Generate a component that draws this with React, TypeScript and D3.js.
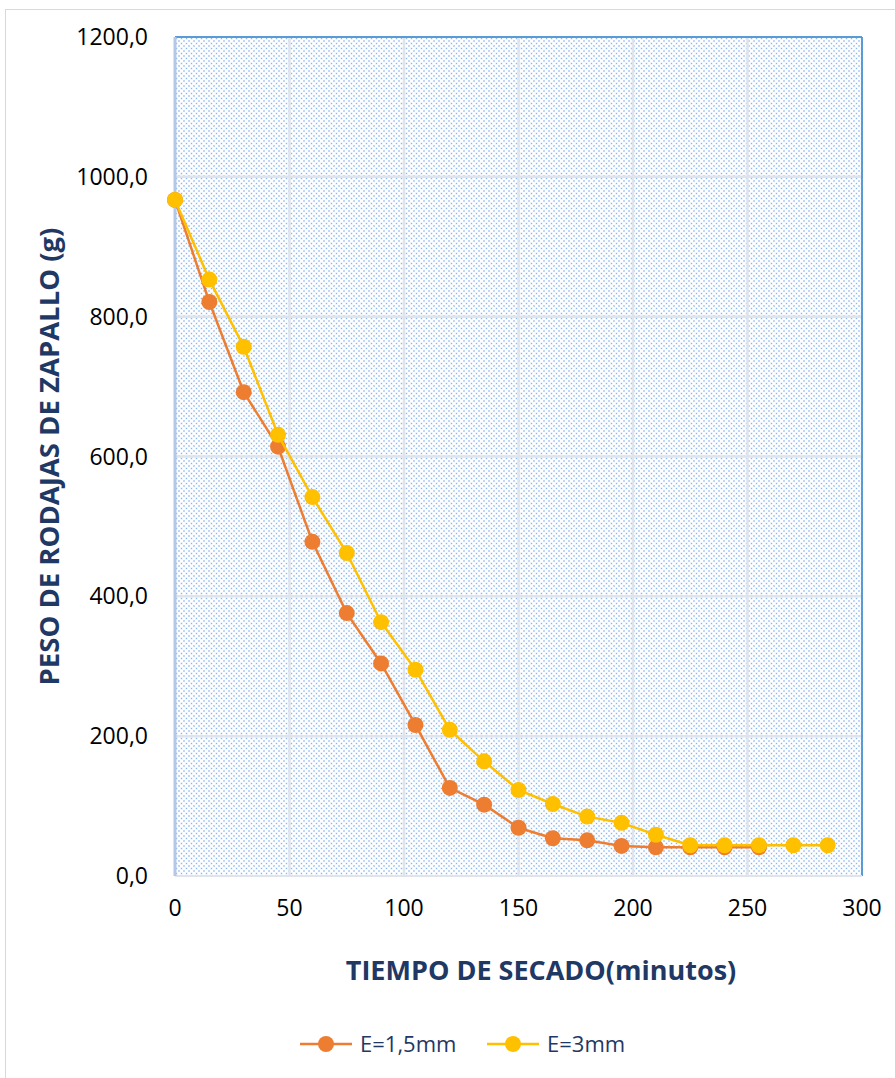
import React from "react";
import * as d3 from "d3";

const width = 895;
const height = 1078;
const margin = { top: 37, right: 33, bottom: 202, left: 175 };

// tiempo de secado (minutos)
const tiempos15 = [0, 15, 30, 45, 60, 75, 90, 105, 120, 135, 150, 165, 180, 195, 210, 225, 240, 255];
const pesos15 = [967, 821, 692, 614, 478, 376, 304, 216, 126, 102, 69, 54, 51, 43, 41, 41, 41, 41];

const tiempos3 = [0, 15, 30, 45, 60, 75, 90, 105, 120, 135, 150, 165, 180, 195, 210, 225, 240, 255, 270, 285];
const pesos3 = [967, 853, 757, 631, 542, 462, 363, 295, 209, 164, 123, 103, 85, 76, 59, 44, 44, 44, 44, 44];

const xTicks = [0, 50, 100, 150, 200, 250, 300];
const yTicks = [0, 200, 400, 600, 800, 1000, 1200];

const series = [
  { name: "E=1,5mm", color: "#ed7d31", xs: tiempos15, ys: pesos15 },
  { name: "E=3mm", color: "#ffc000", xs: tiempos3, ys: pesos3 },
];

const navy = "#1f3864";
const font = "'Open Sans', 'Liberation Sans', sans-serif";

const App = () => {
  const innerWidth = width - margin.left - margin.right;
  const innerHeight = height - margin.top - margin.bottom;

  const xScale = d3.scaleLinear().domain([0, 300]).range([0, innerWidth]);
  const yScale = d3.scaleLinear().domain([0, 1200]).range([innerHeight, 0]);

  const line = d3
    .line<[number, number]>()
    .x((d) => xScale(d[0]))
    .y((d) => yScale(d[1]));

  return (
    <svg
      width={width}
      height={height}
      style={{ position: "absolute", left: 0, top: 0 }}
      fontFamily={font}
    >
      <defs>
        <pattern id="dots" x={0} y={0} width={5} height={5} patternUnits="userSpaceOnUse">
          <rect width={5} height={5} fill="#ffffff" />
          <rect x={0.5} y={0.5} width={2} height={2} fill="#d2e3fa" />
          <rect x={1} y={1} width={1} height={1} fill="#8ab6ee" />
          <rect x={3} y={3} width={2} height={2} fill="#d2e3fa" />
          <rect x={3.5} y={3.5} width={1} height={1} fill="#8ab6ee" />
        </pattern>
      </defs>
      <rect x={0} y={0} width={width} height={height} fill="#fff" />
      <rect x={5.5} y={9.5} width={width} height={height} fill="none" stroke="#d9d9d9" />

      <g transform={`translate(${margin.left},${margin.top})`}>
        <rect width={innerWidth} height={innerHeight} fill="url(#dots)" />

        {/* grid */}
        {xTicks.slice(1, -1).map((t) => (
          <line key={"gx" + t} x1={xScale(t)} x2={xScale(t)} y1={0} y2={innerHeight} stroke="#dfe4ec" strokeWidth={2.5} />
        ))}
        {yTicks.slice(1, -1).map((t) => (
          <line key={"gy" + t} x1={0} x2={innerWidth} y1={yScale(t)} y2={yScale(t)} stroke="#dfe4ec" strokeWidth={2.5} />
        ))}

        {/* borders */}
        <line x1={0} x2={innerWidth} y1={0} y2={0} stroke="#5b9bd5" strokeWidth={2} />
        <line x1={innerWidth} x2={innerWidth} y1={0} y2={innerHeight} stroke="#5b9bd5" strokeWidth={2} />
        <line x1={0} x2={innerWidth} y1={innerHeight} y2={innerHeight} stroke="#dfe4ec" strokeWidth={2} />
        <line x1={0} x2={0} y1={0} y2={innerHeight} stroke="#b4c7e7" strokeWidth={3} />

        {/* y ticks */}
        {yTicks.map((t) => (
          <text
            key={"yt" + t}
            x={-27}
            y={yScale(t)}
            dy="0.35em"
            textAnchor="end"
            fontSize={23}
            fill="#000"
          >
            {d3.format(".1f")(t).replace(".", ",")}
          </text>
        ))}
        {/* x ticks */}
        {xTicks.map((t) => (
          <text
            key={"xt" + t}
            x={xScale(t)}
            y={innerHeight + 40}
            textAnchor="middle"
            fontSize={23}
            fill="#000"
          >
            {t}
          </text>
        ))}

        {series.map((s) => {
          const pts = s.xs.map((x, i) => [x, s.ys[i]] as [number, number]);
          return (
            <g key={s.name}>
              <path d={line(pts) || ""} fill="none" stroke={s.color} strokeWidth={2.5} />
              {pts.map((p, i) => (
                <circle key={i} cx={xScale(p[0])} cy={yScale(p[1])} r={8} fill={s.color} />
              ))}
            </g>
          );
        })}
      </g>

      {/* axis titles */}
      <text
        transform={`translate(59,${margin.top + innerHeight / 2}) rotate(-90)`}
        textAnchor="middle"
        fontSize={27.5}
        fontWeight="bold"
        fill={navy}
      >
        PESO DE RODAJAS DE ZAPALLO (g)
      </text>
      <text x={541} y={980} textAnchor="middle" fontSize={27} fontWeight="bold" fill={navy}>
        TIEMPO DE SECADO(minutos)
      </text>

      {/* legend */}
      {series.map((s, i) => {
        const x0 = i === 0 ? 300 : 487;
        return (
          <g key={"lg" + s.name} transform={`translate(${x0},1044)`}>
            <line x1={0} x2={52} y1={0} y2={0} stroke={s.color} strokeWidth={2.5} />
            <circle cx={26} cy={0} r={8} fill={s.color} />
            <text x={60} y={0} dy="0.35em" fontSize={22} fill={navy}>
              {s.name}
            </text>
          </g>
        );
      })}
    </svg>
  );
};

export default App;
